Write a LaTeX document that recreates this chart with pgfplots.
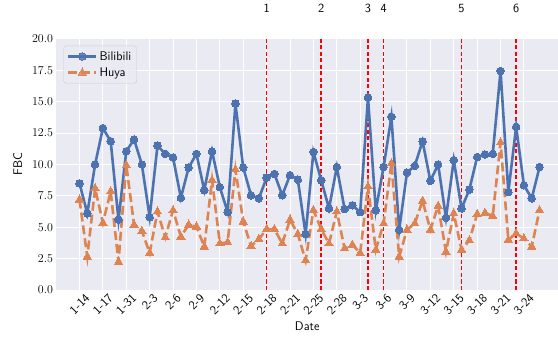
\documentclass[border=0pt]{standalone}
\usepackage{fontspec}
\usepackage{pgfplots}
\pgfplotsset{compat=1.18}
\usepackage{pgfplotstable}
\definecolor{bgc}{HTML}{EAEAF2}
\definecolor{cb}{HTML}{4C72B0}
\definecolor{co}{HTML}{DD8452}
\newcommand\rl[1]{\rotatebox{45}{#1}}
\pgfplotstableread{
idx bili huya
0 8.5 7.2
1 6.1 2.65
2 10.0 8.1
3 12.9 5.35
4 11.85 7.85
5 5.6 2.25
6 11.05 9.95
7 12.0 5.2
8 10.0 4.7
9 5.8 2.95
10 11.5 6.25
11 10.85 4.2
12 10.55 6.35
13 7.35 4.25
14 9.75 5.2
15 10.85 5.05
16 7.95 3.45
17 11.05 8.75
18 8.2 3.7
19 6.2 3.8
20 14.85 9.6
21 9.75 5.45
22 7.55 3.5
23 7.3 4.05
24 8.95 4.85
25 9.25 4.85
26 7.55 3.7
27 9.15 5.6
28 8.8 4.45
29 4.45 2.35
30 11.0 6.35
31 8.75 4.85
32 6.5 3.7
33 9.8 6.25
34 6.45 3.3
35 6.75 3.6
36 6.2 2.95
37 15.35 8.25
38 6.35 3.2
39 9.8 5.3
40 13.8 10.1
41 4.8 2.65
42 9.35 4.8
43 9.9 5.3
44 11.85 7.1
45 8.7 4.8
46 10.0 6.7
47 5.75 3.05
48 10.35 6.1
49 6.5 3.2
50 8.0 3.95
51 10.6 6.05
52 10.8 6.15
53 10.85 5.9
54 17.45 11.75
55 7.8 4.0
56 13.0 4.5
57 8.35 4.1
58 7.3 3.45
59 9.8 6.35
}\data
\pgfplotstableread{
x y
24 20
31 20
37 20
39 20
49 20
56 20
}\events
\begin{document}
\begin{tikzpicture}
\begin{axis}[
  name=ax,
  width=501.5pt, height=251pt, scale only axis,
  xmin=-2.95, xmax=61.37, ymin=0, ymax=20,
  axis background/.style={fill=bgc},
  axis line style={draw=none},
  major tick length=0pt,
  grid=major, major grid style={white, line width=1pt},
  xtick={0,3,...,57},
  xticklabels={\rl{1-14},\rl{1-17},\rl{1-31},\rl{2-3},\rl{2-6},\rl{2-9},\rl{2-12},\rl{2-15},\rl{2-18},\rl{2-21},\rl{2-25},\rl{2-28},\rl{3-3},\rl{3-6},\rl{3-9},\rl{3-12},\rl{3-15},\rl{3-18},\rl{3-21},\rl{3-24}},
  xticklabel style={anchor=north, yshift=-2pt, inner sep=1pt, font=\sffamily\fontsize{12.5}{14}\selectfont},
  ytick={0,2.5,...,20},
  yticklabel style={/pgf/number format/.cd,fixed,fixed zerofill,precision=1,/tikz/.cd,font=\fontsize{12}{14}\selectfont},
  xlabel={Date}, ylabel={FBC},
  ylabel shift=3pt, xlabel shift=2pt,
  label style={font=\sffamily\fontsize{12.5}{15}\selectfont},
  clip=false,
  legend cell align=left,
  legend image code/.code={\draw[mark repeat=2,mark phase=2] plot coordinates {(0pt,0pt)(14pt,0pt)(28pt,0pt)};},
  legend style={at={(0,1)}, anchor=north west, xshift=6.8pt, yshift=-6.7pt,
    fill=bgc, fill opacity=0.8, text opacity=1, draw=black!20, rounded corners=3pt,
    font=\sffamily\fontsize{12.5}{15}\selectfont, row sep=2pt, inner sep=3.5pt},
]
\addplot[ycomb, draw={rgb,1:red,1;green,0;blue,0}, line width=1.5pt, line cap=butt, dash pattern=on 4pt off 2.5pt, forget plot] table[x=x, y=y] {\events};
\addplot[cb, line width=2.6pt, mark=*, mark size=3.8pt, mark options={solid, fill=cb, draw=cb, line width=0pt}] table[x=idx, y=bili] {\data};
\addlegendentry{Bilibili}
\addplot[co, line width=2.6pt, dash pattern=on 9pt off 4pt, mark=triangle*, mark size=4.8pt, mark options={solid, fill=co, draw=co, line width=0pt}] table[x=idx, y=huya] {\data};
\addlegendentry{Huya}
\node[font=\sffamily\fontsize{12.5}{15}\selectfont] at (axis cs:24,22.45) {1};
\node[font=\sffamily\fontsize{12.5}{15}\selectfont] at (axis cs:31,22.45) {2};
\node[font=\sffamily\fontsize{12.5}{15}\selectfont] at (axis cs:37,22.45) {3};
\node[font=\sffamily\fontsize{12.5}{15}\selectfont] at (axis cs:39,22.45) {4};
\node[font=\sffamily\fontsize{12.5}{15}\selectfont] at (axis cs:49,22.45) {5};
\node[font=\sffamily\fontsize{12.5}{15}\selectfont] at (axis cs:56,22.45) {6};
\end{axis}
\path (ax.south west) ++(-56.5pt,-49pt) coordinate (bba);
\path (ax.north east) ++(0pt,39pt) coordinate (bbb);
\pgfresetboundingbox
\path (bba) rectangle (bbb);
\end{tikzpicture}
\end{document}
